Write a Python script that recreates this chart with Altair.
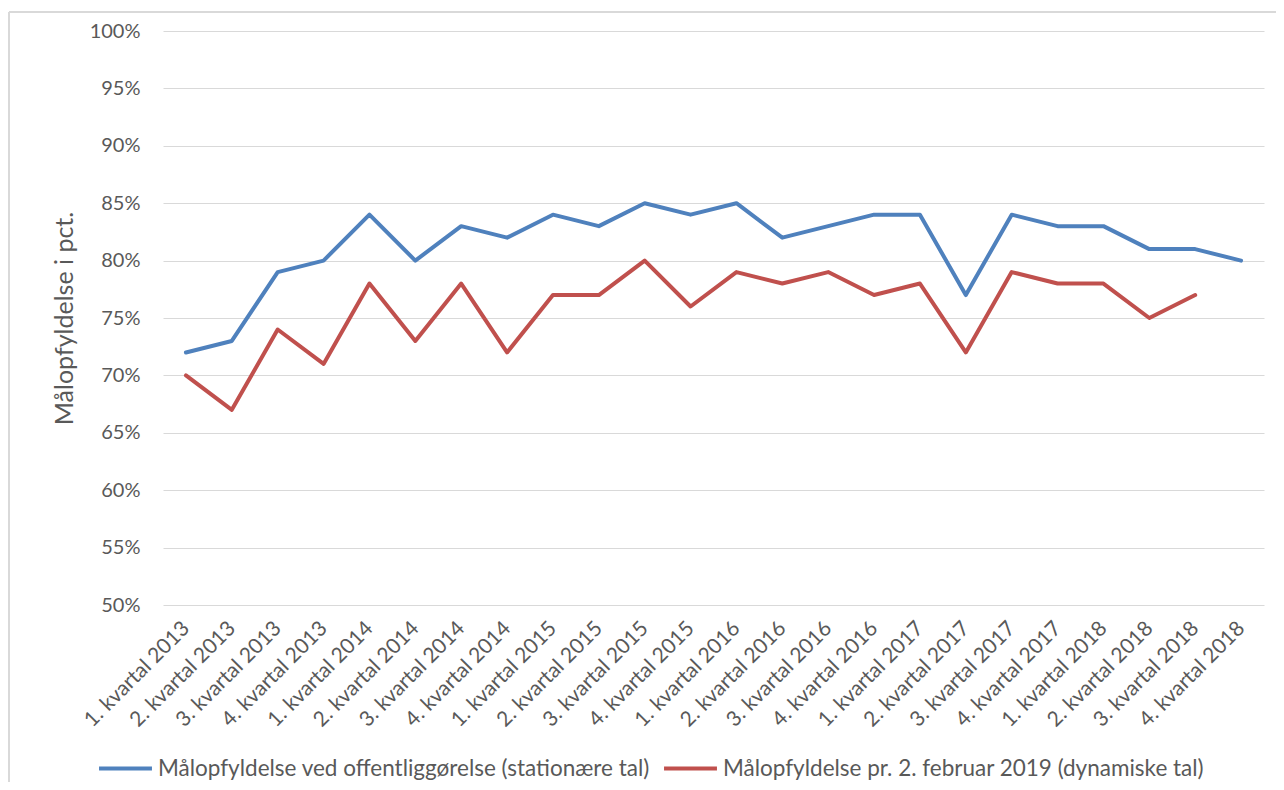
import altair as alt
import pandas as pd

quarters = [
    "1. kvartal 2013", "2. kvartal 2013", "3. kvartal 2013", "4. kvartal 2013",
    "1. kvartal 2014", "2. kvartal 2014", "3. kvartal 2014", "4. kvartal 2014",
    "1. kvartal 2015", "2. kvartal 2015", "3. kvartal 2015", "4. kvartal 2015",
    "1. kvartal 2016", "2. kvartal 2016", "3. kvartal 2016", "4. kvartal 2016",
    "1. kvartal 2017", "2. kvartal 2017", "3. kvartal 2017", "4. kvartal 2017",
    "1. kvartal 2018", "2. kvartal 2018", "3. kvartal 2018", "4. kvartal 2018",
]
series_blue_name = "Målopfyldelse ved offentliggørelse (stationære tal)"
series_red_name = "Målopfyldelse pr. 2. februar 2019 (dynamiske tal)"
blue_values = [72, 73, 79, 80, 84, 80, 83, 82, 84, 83, 85, 84,
               85, 82, 83, 84, 84, 77, 84, 83, 83, 81, 81, 80]
red_values = [70, 67, 74, 71, 78, 73, 78, 72, 77, 77, 80, 76,
              79, 78, 79, 77, 78, 72, 79, 78, 78, 75, 77]

rows = []
for q, v in zip(quarters, blue_values):
    rows.append({"kvartal": q, "serie": series_blue_name, "vaerdi": v / 100})
for q, v in zip(quarters, red_values):
    rows.append({"kvartal": q, "serie": series_red_name, "vaerdi": v / 100})
df = pd.DataFrame(rows)

FONT = "Lato"
GREY = "#595959"
FS = 20

lines = alt.Chart(df).mark_line(strokeWidth=4, strokeCap="round", strokeJoin="round").encode(
    x=alt.X("kvartal:N", sort=quarters, title=None,
            scale=alt.Scale(padding=0.5),
            axis=alt.Axis(labelAngle=-45, labelAlign="right", labelBaseline="middle",
                          labelFontSize=21, labelColor=GREY, labelFont=FONT,
                          ticks=False, domain=False, grid=False, labelPadding=20)),
    y=alt.Y("vaerdi:Q", title="Målopfyldelse i pct.",
            scale=alt.Scale(domain=[0.5, 1.0], nice=False, zero=False),
            axis=alt.Axis(format=".0%", values=[0.5, 0.55, 0.6, 0.65, 0.7, 0.75, 0.8, 0.85, 0.9, 0.95, 1.0],
                          labelFontSize=FS, labelColor=GREY, labelFont=FONT, labelPadding=23,
                          ticks=False, domain=False, gridColor="#d9d9d9", gridWidth=1,
                          titleFontSize=25, titleFont=FONT, titleColor=GREY, titleFontWeight="normal",
                          titlePadding=12)),
    color=alt.Color("serie:N", sort=[series_blue_name, series_red_name],
                    scale=alt.Scale(domain=[series_blue_name, series_red_name],
                                    range=["#4F81BD", "#C0504D"]),
                    legend=alt.Legend(title=None, orient="none", direction="horizontal",
                                      legendX=-66, legendY=709, padding=0,
                                      symbolType="stroke", symbolSize=2800, symbolStrokeWidth=4,
                                      labelFontSize=22.5, labelColor=GREY, labelFont=FONT,
                                      labelLimit=0, columnPadding=6, labelOffset=4)),
)

border_top = alt.Chart().mark_rule(color="#d9d9d9", strokeWidth=2).encode(
    x=alt.value(-154), x2=alt.value(1130), y=alt.value(-19))
border_left = alt.Chart().mark_rule(color="#d9d9d9", strokeWidth=2).encode(
    x=alt.value(-154), y=alt.value(-19), y2=alt.value(800))

chart = alt.layer(border_top, border_left, lines).properties(
    width=1101, height=574,
    autosize=alt.AutoSizeParams(type="none"),
    padding={"left": 155, "top": 23, "right": 12, "bottom": 177},
).configure(font=FONT).configure_view(stroke=None)

chart.save("out.html", embed_options={"renderer": "svg", "actions": False})
